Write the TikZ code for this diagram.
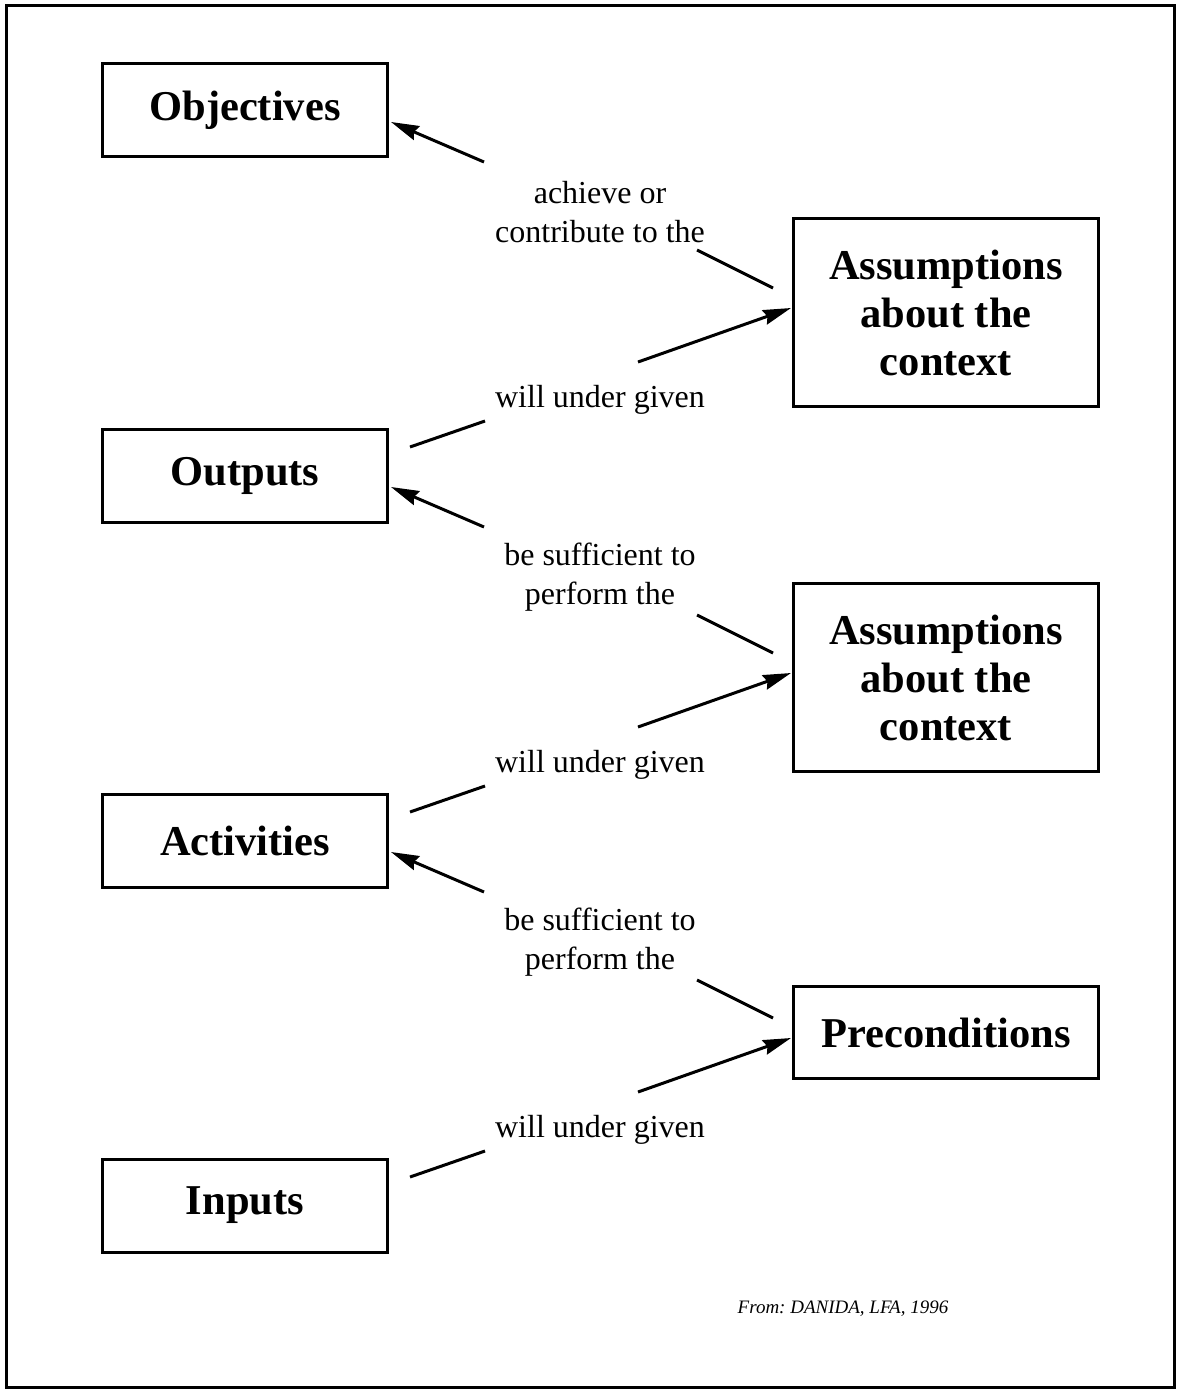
\documentclass[tikz,border=0pt]{standalone}
\usepackage{fontspec}
\setmainfont{Liberation Serif}
\usetikzlibrary{arrows.meta,calc}
\frenchspacing
\begin{document}
\begin{tikzpicture}[x=1pt,y=-1pt,
  box/.style={draw,line width=3pt,inner sep=0pt,align=center,
    font=\fontsize{42.5}{48}\selectfont\bfseries},
  leftbox/.style={box,minimum width=285pt,minimum height=93pt},
  rightbox/.style={box,minimum width=305pt},
  lbl/.style={align=center,inner sep=0pt,font=\fontsize{32}{38.5}\selectfont},
  link/.style={line width=3pt},
  linkarrow/.style={link,-{Stealth[length=28pt,width=15pt,inset=3pt]}}
]
\useasboundingbox (0,0) rectangle (1176,1389);
\draw[line width=3pt] (6,6) rectangle (1174.5,1387.5);

% logframe levels
\node[leftbox] (obj) at (245,110) {Objectives};
\node[leftbox] (out) at (245,475.5) {Outputs};
\node[leftbox] (act) at (245,840.5) {Activities};
\node[leftbox] (inp) at (245,1205.5) {Inputs};

% assumptions and preconditions
\node[rightbox,minimum height=188pt] (asmA) at (946,312.5) {Assumptions\\about the\\context};
\node[rightbox,minimum height=188pt] (asmB) at (946,677.5) {Assumptions\\about the\\context};
\node[rightbox,minimum height=92pt] (pre) at (946,1032.5) {Preconditions};

% connecting phrases
\node[lbl] (tA) at (600,212) {achieve or\\contribute to the};
\node[lbl] (tB) at (600,577) {be sufficient to\\perform the};
\node[lbl] (tC) at (600,942) {be sufficient to\\perform the};
\node[lbl] (wA) at (600,399.5) {will under given};
\node[lbl] (wB) at (600,764.5) {will under given};
\node[lbl] (wC) at (600,1129.5) {will under given};

% free ends of the connector segments
\coordinate (tA1) at (484,162);  \coordinate (tA2) at (697,250);  \coordinate (tA3) at (773,288);
\coordinate (tB1) at (484,527);  \coordinate (tB2) at (697,615);  \coordinate (tB3) at (773,653);
\coordinate (tC1) at (484,892);  \coordinate (tC2) at (697,980);  \coordinate (tC3) at (773,1018);
\coordinate (wA1) at (410,447);  \coordinate (wA2) at (485,421);  \coordinate (wA3) at (638,362);
\coordinate (wB1) at (410,812);  \coordinate (wB2) at (485,786);  \coordinate (wB3) at (638,727);
\coordinate (wC1) at (410,1177); \coordinate (wC2) at (485,1151); \coordinate (wC3) at (638,1092);

% assumptions -> higher level
\draw[link] (tA3) -- (tA2);
\draw[linkarrow] (tA1) -- ($(obj.east)+(2,12)$);
\draw[link] (tB3) -- (tB2);
\draw[linkarrow] (tB1) -- ($(out.east)+(2,11.5)$);
\draw[link] (tC3) -- (tC2);
\draw[linkarrow] (tC1) -- ($(act.east)+(2,11.5)$);

% lower level -> assumptions
\draw[link] (wA1) -- (wA2);
\draw[linkarrow] (wA3) -- ($(asmA.west)+(-1,-4.5)$);
\draw[link] (wB1) -- (wB2);
\draw[linkarrow] (wB3) -- ($(asmB.west)+(-1,-4.5)$);
\draw[link] (wC1) -- (wC2);
\draw[linkarrow] (wC3) -- ($(pre.west)+(-1,5.5)$);

% source note
\node[inner sep=0pt,font=\fontsize{19}{23}\selectfont\itshape] (src) at (843,1309) {From: DANIDA, LFA, 1996};
\end{tikzpicture}
\end{document}
